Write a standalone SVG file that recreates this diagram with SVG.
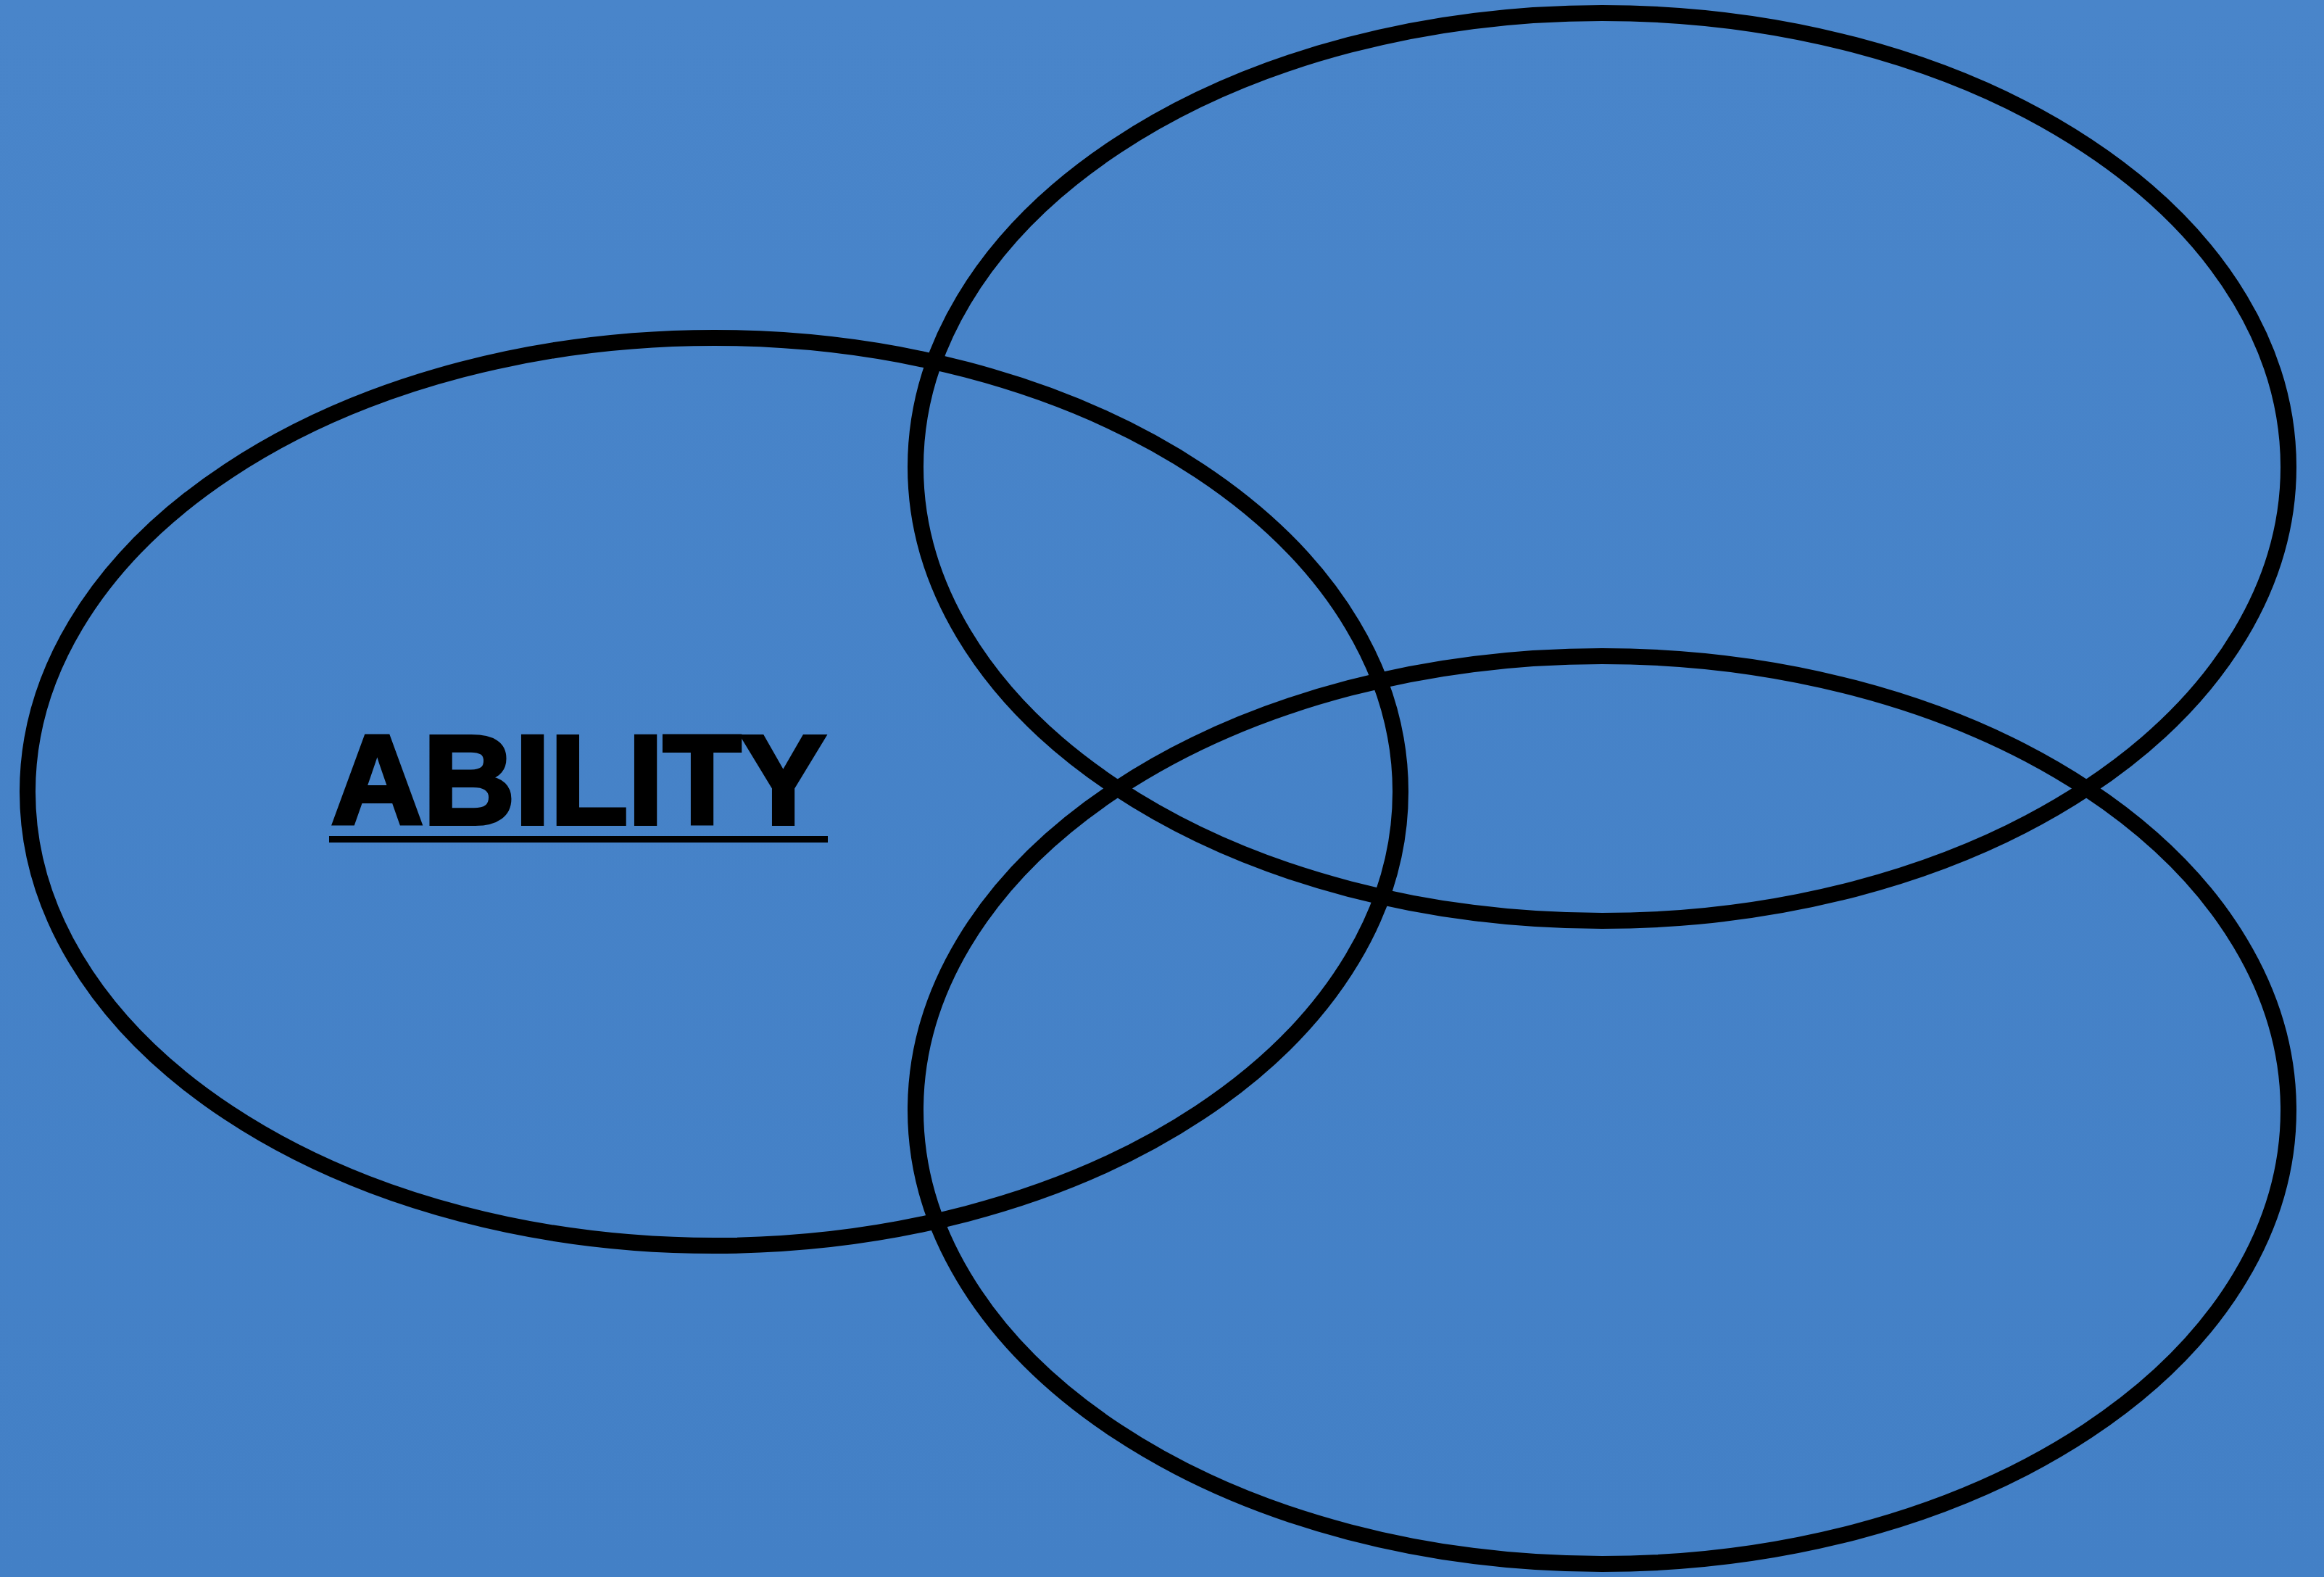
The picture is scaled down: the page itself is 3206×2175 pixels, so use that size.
<svg xmlns="http://www.w3.org/2000/svg" width="3206" height="2175" viewBox="0 0 3206 2175">
<style>
.ring{fill:none;stroke:#000;stroke-width:22}
.label{font-family:"Liberation Sans",Arial,sans-serif;font-weight:bold;font-size:174px;fill:#000;stroke:#000;stroke-width:6;stroke-linejoin:miter}
</style>
<defs>
<linearGradient id="bg" x1="0" y1="0" x2="0" y2="1">
<stop offset="0" stop-color="#4985CA"/>
<stop offset="1" stop-color="#4380C6"/>
</linearGradient>
</defs>
<rect width="3206" height="2175" fill="url(#bg)"/>
<g id="ability">
<ellipse class="ring" cx="985" cy="1092" rx="947" ry="626"/>
<text class="label" x="457" y="1136" textLength="682" lengthAdjust="spacingAndGlyphs">ABILITY</text>
<rect x="454" y="1153" width="688" height="9" fill="#000"/>
</g>
<g id="top-right">
<ellipse class="ring" cx="2210" cy="644" rx="947" ry="626"/>
</g>
<g id="bottom-right">
<ellipse class="ring" cx="2210" cy="1531" rx="947" ry="626"/>
</g>
<g id="connectors"></g>
</svg>
